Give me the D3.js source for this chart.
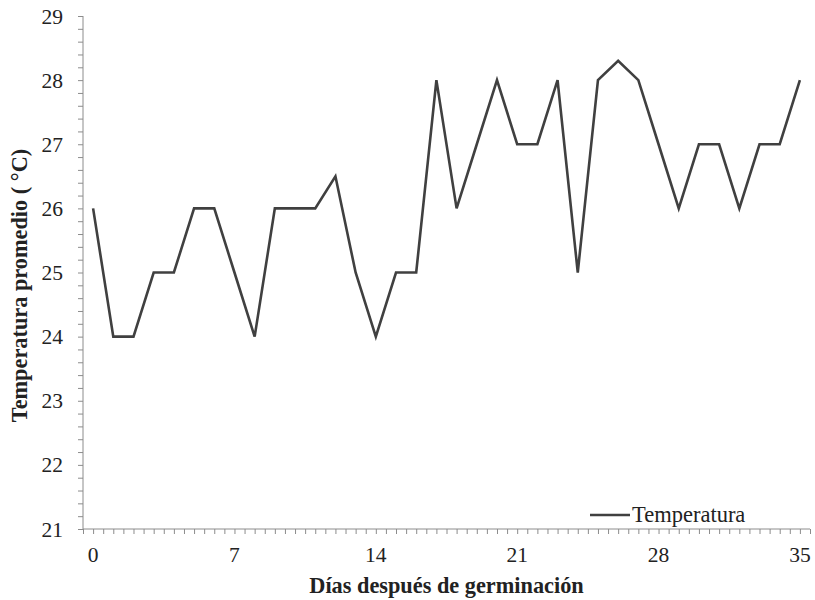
<!DOCTYPE html>
<html><head><meta charset="utf-8">
<script src="https://cdn.jsdelivr.net/npm/d3@7"></script>
<style>body{margin:0;background:#fff}</style>
</head><body>
<svg id="c" width="815" height="600"></svg>
<script>
const days = d3.range(0, 36);
const temperatura = [26,24,24,25,25,26,26,25,24,26,26,26,26.5,25,24,25,25,28,26,27,28,27,27,28,25,28,28.3,28,27,26,27,27,26,27,27,28];
const xTickLabels = [0,7,14,21,28,35];
const yTickLabels = [21,22,23,24,25,26,27,28,29];
const seriesName = "Temperatura";
const xTitle = "Días después de germinación";
const yTitle = "Temperatura promedio ( °C)";

const svg = d3.select("#c");
const L = 83, R = 810, T = 16, B = 529;
const x = d3.scaleLinear().domain([-0.5, 35.5]).range([L, R]);
const y = d3.scaleLinear().domain([21, 29]).range([B, T]);
const font = "'Liberation Serif','Times New Roman',serif";
const axisColor = "#8c8c8c";

// y axis minor ticks
const yMinor = d3.range(21, 29.001, 0.2);
const gy = svg.append("g").attr("transform", `translate(${L},0)`)
  .call(d3.axisLeft(y).tickValues(yMinor).tickSize(5).tickFormat(""));
gy.selectAll("path,line").attr("stroke", axisColor);
gy.select(".domain").attr("d", `M0,${B}V${T}`);
svg.append("g").selectAll("text").data(yTickLabels).join("text")
  .attr("x", 63).attr("y", d => y(d)).attr("dy", "0.35em")
  .attr("text-anchor", "end").attr("font-family", font).attr("font-size", 21.5)
  .attr("fill", "#222").text(d => d);

// x axis minor ticks every 0.5
const xMinor = d3.range(-0.5, 35.501, 0.5);
const gx = svg.append("g").attr("transform", `translate(0,${B})`)
  .call(d3.axisBottom(x).tickValues(xMinor).tickSize(5).tickFormat(""));
gx.selectAll("path,line").attr("stroke", axisColor);
gx.select(".domain").attr("d", `M${L},0H${R}`);
svg.append("g").selectAll("text").data(xTickLabels).join("text")
  .attr("x", d => x(d)).attr("y", 562)
  .attr("text-anchor", "middle").attr("font-family", font).attr("font-size", 21.5)
  .attr("fill", "#222").text(d => d);

// line
const line = d3.line().x((d, i) => x(days[i])).y(d => y(d));
svg.append("path").datum(temperatura).attr("d", line)
  .attr("fill", "none").attr("stroke", "#404040").attr("stroke-width", 2.6)
  .attr("stroke-linejoin", "miter");

// legend
svg.append("line").attr("x1", 590).attr("x2", 630).attr("y1", 515).attr("y2", 515)
  .attr("stroke", "#404040").attr("stroke-width", 2.6);
svg.append("text").attr("x", 632).attr("y", 522).attr("font-family", font)
  .attr("font-size", 22.5).attr("fill", "#222").text(seriesName);

// titles
svg.append("text").attr("x", 446.5).attr("y", 593).attr("text-anchor", "middle")
  .attr("font-family", font).attr("font-size", 22.3).attr("font-weight", "bold")
  .attr("fill", "#222").text(xTitle);
svg.append("text").attr("transform", `translate(27,285.5) rotate(-90)`)
  .attr("text-anchor", "middle").attr("font-family", font).attr("font-size", 22.3)
  .attr("font-weight", "bold").attr("fill", "#222").text(yTitle);
</script>
</body></html>
